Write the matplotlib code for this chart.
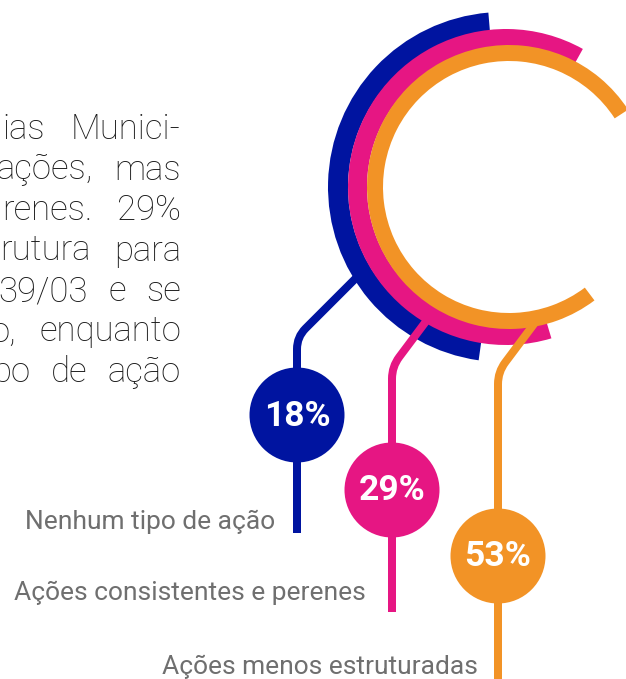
import matplotlib
matplotlib.use("Agg")
import matplotlib.pyplot as plt
from matplotlib.patches import Wedge, Circle, PathPatch
from matplotlib.path import Path

# data
categories = ["Nenhum tipo de ação", "Ações consistentes e perenes", "Ações menos estruturadas"]
values = [18, 29, 53]
colors = ["#0014a0", "#e61683", "#f29326"]

# paragraph fragment (cut at the left edge in the original)
para_lines = [
    ["ias", "Munici-"],
    ["ações,", "mas"],
    ["renes.", "29%"],
    ["rutura", "para"],
    ["39/03", "e", "se"],
    ["o,", "enquanto"],
    ["po", "de", "ação"],
]
para_start = [2, -4, 2, 0, -2, -10, -8]

# layout (pixels)
W, H = 626, 679
CY = 187
arc_cx = [503, 506, 509]
arc_outer = [175, 158, 142]
arc_width = [20, 19, 16]
arc_span = [(94.8, 262), (60.9, 286.7), (33, 307)]  # visual degrees, ccw
line_start = [(367, 267), (433, 312), (540, 316)]
bubble_x = [297, 392, 498]
bubble_y = [415, 490, 556]
line_bottom = [533, 612, 690]
label_x = [275, 366, 478]
label_y = [529, 600, 674]
R_BUBBLE = 47.5
LW = 8 * 72 / 100


def connector(start, x, bottom, r=12):
    sx, sy = start
    # 45 degree run for the first connector, steeper for the others
    if sx - x > 50:
        ux, uy = -0.7071, 0.7071
    else:
        ux, uy = -0.6, 0.8
    corner_y = sy + (x - sx) / ux * uy
    p1 = (x - ux * r, corner_y - uy * r)
    p2 = (x, corner_y + r)
    verts = [(sx, sy), p1, (x, corner_y), p2, (x, bottom)]
    codes = [Path.MOVETO, Path.LINETO, Path.CURVE3, Path.CURVE3, Path.LINETO]
    return Path(verts, codes)


fig = plt.figure(figsize=(W / 100, H / 100), dpi=100)
ax = fig.add_axes([0, 0, 1, 1])
ax.set_xlim(0, W)
ax.set_ylim(H, 0)
ax.axis("off")

for i, (cat, v, c) in enumerate(zip(categories, values, colors)):
    z = 1 + 2 * i
    path = connector(line_start[i], bubble_x[i], line_bottom[i])
    ax.add_patch(PathPatch(path, fill=False, edgecolor=c, lw=LW,
                           capstyle="butt", joinstyle="round", zorder=z))
    a1, a2 = arc_span[i]
    ax.add_patch(Wedge((arc_cx[i], CY), arc_outer[i], -a2, -a1, width=arc_width[i],
                       facecolor=c, edgecolor="none", zorder=z + 1))
    ax.add_patch(Circle((bubble_x[i], bubble_y[i]), R_BUBBLE, facecolor=c,
                        edgecolor="none", zorder=10))
    ax.text(bubble_x[i], bubble_y[i] + 1, f"{v}%", color="white", fontsize=25.5,
            fontweight="bold", family="Roboto", ha="center", va="center", zorder=11)
    ax.text(label_x[i], label_y[i], cat, color="#6f6f6f", fontsize=19,
            family="Roboto", ha="right", va="baseline", zorder=11)

# justified paragraph fragment
fig.canvas.draw()
renderer = fig.canvas.get_renderer()
right = 181
for k, words in enumerate(para_lines):
    base = 139 + 40.5 * k
    arts = [ax.text(0, base, w, fontsize=25, family="Roboto", fontweight="light",
                    color="#1a1a1a", ha="left", va="baseline") for w in words]
    widths = [a.get_window_extent(renderer).width for a in arts]
    gap = (right - para_start[k] - sum(widths)) / (len(words) - 1)
    x = para_start[k]
    for a, w in zip(arts, widths):
        a.set_x(x)
        x += w + gap

fig.savefig("out.png", dpi=100)
